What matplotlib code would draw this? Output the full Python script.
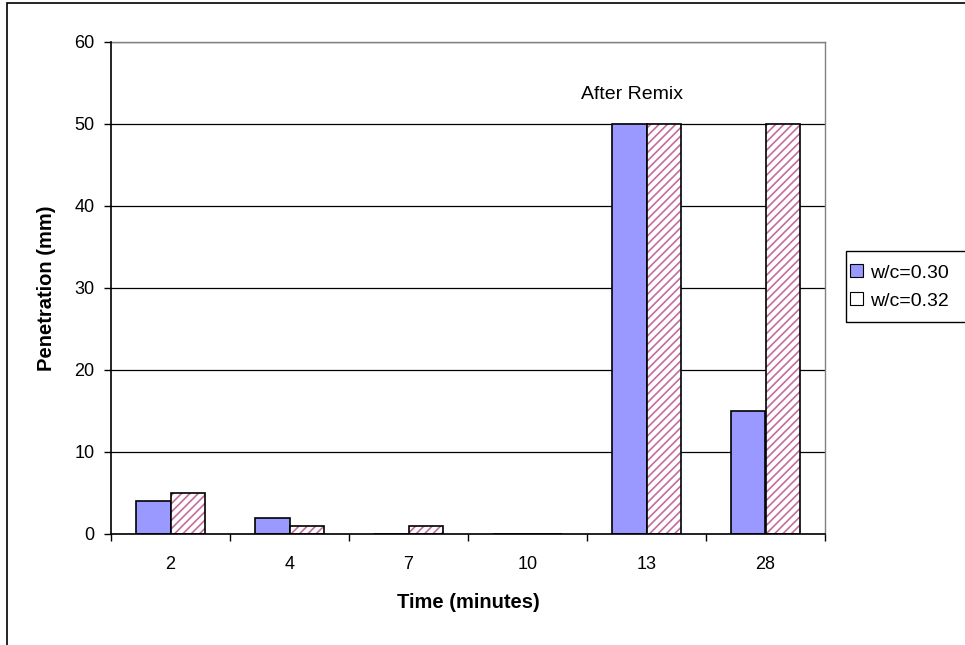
import matplotlib
matplotlib.use('Agg')
import matplotlib.pyplot as plt
import numpy as np
from matplotlib.patches import Rectangle

plt.rcParams['font.family'] = ['Liberation Sans', 'DejaVu Sans']
plt.rcParams['hatch.linewidth'] = 1.2

# ── Data ────────────────────────────────────────────────────────────────────
times = ['2', '4', '7', '10', '13', '28']
wc030 = [4, 2, 0, 0, 50, 15]
wc032 = [5, 1, 1, 0, 50, 50]
series_labels = ['w/c=0.30', 'w/c=0.32']
yticks = [0, 10, 20, 30, 40, 50, 60]

W, H = 965, 645
fig = plt.figure(figsize=(W / 100, H / 100), dpi=100)
ax = fig.add_axes([111 / W, 1 - 534 / H, (825 - 111) / W, (534 - 42) / H])

x = np.arange(len(times))
width = 0.287

ax.bar(x - width / 2, wc030, width, color='#9999ff', edgecolor='black',
       linewidth=1.2, zorder=3)
# hatch takes the edge colour, so the pink pattern and black outline are drawn separately
ax.bar(x + width / 2, wc032, width, color='white', edgecolor='#c46c9e',
       linewidth=0, hatch='////', zorder=3)
ax.bar(x + width / 2, wc032, width, fill=False, edgecolor='black',
       linewidth=1.2, zorder=4)

ax.set_xlim(-0.5, len(times) - 0.5)
ax.set_ylim(0, 60)
ax.set_yticks(yticks)
ax.yaxis.grid(True, color='black', linewidth=0.9)
ax.set_axisbelow(True)

# category labels at centres, ticks at category boundaries
ax.set_xticks(x)
ax.set_xticklabels(times)
ax.set_xticks(np.arange(len(times) + 1) - 0.5, minor=True)
ax.tick_params(axis='x', which='major', length=0, pad=16, labelsize=13)
ax.tick_params(axis='x', which='minor', length=5, width=1, direction='out')
ax.tick_params(axis='y', length=5, width=1, direction='out', pad=7, labelsize=13)

for side in ('top', 'right'):
    ax.spines[side].set_color('#808080')
    ax.spines[side].set_linewidth(1.0)
for side in ('left', 'bottom'):
    ax.spines[side].set_linewidth(1.2)
    ax.spines[side].set_zorder(5)

ax.set_xlabel('Time (minutes)', fontsize=14.5, fontweight='bold', va='center')
ax.xaxis.set_label_coords(0.5, (534 - 603) / (534 - 42))
ax.set_ylabel('Penetration (mm)', fontsize=14.5, fontweight='bold', va='center')
ax.yaxis.set_label_coords((47 - 111) / (825 - 111), 0.5)

ax.text(3.878, 53.6, 'After Remix', fontsize=14, ha='center', va='center')

# legend, its box running off the right edge
handles = [Rectangle((0, 0), 1, 1, facecolor='#9999ff', edgecolor='black', linewidth=0.8),
           Rectangle((0, 0), 1, 1, facecolor='white', edgecolor='black', linewidth=0.8)]
fig.legend(handles, series_labels, loc='center left',
           bbox_to_anchor=(850 / W, 1 - 287 / H), frameon=False,
           fontsize=14, handlelength=0.65, handleheight=0.65,
           handletextpad=0.4, labelspacing=0.55, borderpad=0.0,
           borderaxespad=0)
fig.patches.append(Rectangle((846 / W, 1 - 322 / H), 130 / W, 71 / H,
                             transform=fig.transFigure, fill=False,
                             edgecolor='black', linewidth=1.0))

# outer chart frame
fig.patches.append(Rectangle((7 / W, -0.05), 1.0, 1.05 - 3 / H,
                             transform=fig.transFigure, fill=False,
                             edgecolor='black', linewidth=1.2))

fig.savefig('out.png', dpi=100)
